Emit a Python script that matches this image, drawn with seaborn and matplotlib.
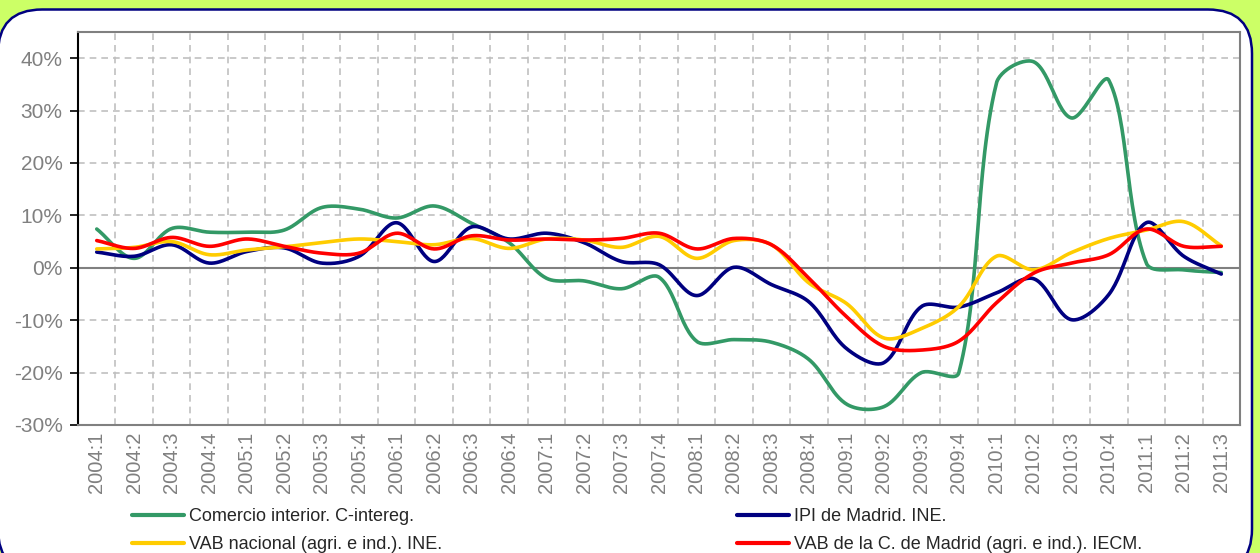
import numpy as np
import pandas as pd
import matplotlib
matplotlib.use("Agg")
import matplotlib.pyplot as plt
from matplotlib.patches import FancyBboxPatch
from matplotlib.lines import Line2D
import seaborn as sns

# --------------------------
# Data (% interanual)
# --------------------------
quarters = [f"{y}:{q}" for y in range(2004, 2012) for q in range(1, 5)][:31]

comercio = [7.4, 1.8, 7.5, 6.8, 6.8, 7.2, 11.5, 11.2, 9.5, 11.8, 8.5, 4.8,
            -2.0, -2.5, -4.0, -1.8, -14.0, -13.7, -14.2, -17.5, -26.0, -26.5,
            -20.0, -20.0, 35.2, 39.3, 28.6, 35.8, 0.9, -0.4, -0.9]
ipi_madrid = [3.0, 2.2, 4.4, 0.9, 3.1, 3.8, 0.9, 2.2, 8.6, 1.2, 7.8, 5.5,
              6.6, 4.8, 1.2, 0.6, -5.3, 0.1, -3.2, -6.5, -15.4, -18.1,
              -7.4, -7.5, -4.8, -2.1, -9.9, -5.1, 8.6, 2.2, -1.2]
vab_nacional = [3.6, 3.9, 5.0, 2.5, 3.4, 4.0, 4.8, 5.5, 5.0, 4.4, 5.6, 3.7,
                5.5, 5.3, 3.9, 6.0, 1.8, 5.2, 4.4, -2.9, -6.8, -13.4,
                -11.6, -7.4, 2.2, -0.4, 2.9, 5.6, 7.2, 8.8, 4.2]
vab_madrid = [5.2, 3.7, 5.8, 4.1, 5.5, 4.1, 2.8, 2.8, 6.6, 3.6, 6.1, 5.3,
              5.5, 5.3, 5.6, 6.6, 3.6, 5.6, 4.4, -2.0, -9.3, -15.0,
              -15.7, -14.0, -6.7, -1.0, 0.9, 2.5, 7.4, 4.1, 4.1]

series_names = ["Comercio interior. C-intereg.", "IPI de Madrid. INE.",
                "VAB nacional (agri. e ind.). INE.",
                "VAB de la C. de Madrid (agri. e ind.). IECM."]
series_values = [comercio, ipi_madrid, vab_nacional, vab_madrid]
series_colors = ["#339966", "#000080", "#FFCC00", "#FF0000"]


def smooth(vals, n=30, sx=37.5, sy=5.25):
    """Excel-like smoothed line: Bezier through the points, handle lengths
    weighted by the on-screen length of the adjacent segments."""
    y = np.asarray(vals, dtype=float)
    x = np.arange(len(y), dtype=float)
    P = np.column_stack([x * sx, y * sy])
    m = len(P)
    cin, cout = np.zeros_like(P), np.zeros_like(P)
    for i in range(m):
        prev, nxt = P[max(i - 1, 0)], P[min(i + 1, m - 1)]
        T = nxt - prev
        d1 = np.hypot(*(P[i] - prev))
        d2 = np.hypot(*(nxt - P[i]))
        tot = d1 + d2 if d1 + d2 > 0 else 1.0
        cin[i] = P[i] - T * (d1 / tot) / 3
        cout[i] = P[i] + T * (d2 / tot) / 3
    t = np.linspace(0, 1, n)[:, None]
    pts = []
    for i in range(m - 1):
        seg = ((1 - t) ** 3 * P[i] + 3 * (1 - t) ** 2 * t * cout[i]
               + 3 * (1 - t) * t ** 2 * cin[i + 1] + t ** 3 * P[i + 1])
        pts.append(seg if i == 0 else seg[1:])
    pts = np.vstack(pts)
    return pts[:, 0] / sx, pts[:, 1] / sy


# --------------------------
# Figure
# --------------------------
sns.set_theme(style="white")
plt.rcParams["font.family"] = ["Liberation Sans", "DejaVu Sans"]

W, H = 1260, 553
fig = plt.figure(figsize=(W / 100, H / 100), dpi=100)
fig.patch.set_facecolor("#CCFF66")
frame = FancyBboxPatch((-2 / W, -20 / H), 1254 / W, (H - 9.5 + 20) / H,
                       boxstyle="round,pad=0,rounding_size=0.035",
                       mutation_aspect=W / H,
                       transform=fig.transFigure, facecolor="white",
                       edgecolor="#000080", linewidth=1.8, zorder=-10)
fig.patches.append(frame)

ax = fig.add_axes([78 / W, 1 - 425 / H, (1240 - 78) / W, (425 - 32) / H])
ax.set_zorder(1)
ax.set_facecolor("white")

for name, vals, col in zip(series_names, series_values, series_colors):
    xs, ys = smooth(vals)
    sns.lineplot(x=xs, y=ys, color=col, linewidth=2.6, sort=False,
                 estimator=None, ax=ax, legend=False)

ax.axhline(0, color="#808080", linewidth=1.5, zorder=1)

ax.set_xlim(-0.5, len(quarters) - 0.5)
ax.set_ylim(-30, 45)
ax.set_yticks(range(-30, 41, 10))
ax.set_yticklabels([f"{v}%" for v in range(-30, 41, 10)])
ax.set_xticks(range(len(quarters)))
ax.set_xticklabels(quarters, rotation=90)

ax.grid(False)
for v in range(-30, 41, 10):
    ax.axhline(v, color="#C0C0C0", linewidth=1.2, linestyle=(0, (4, 3)), zorder=0.5)
for xv in np.arange(len(quarters) - 1) + 0.5:
    ax.axvline(xv, color="#C0C0C0", linewidth=1.2, linestyle=(0, (4, 3)), zorder=0.5)

ax.tick_params(axis="y", which="major", length=6, width=1.2, color="#000000",
               labelsize=15, labelcolor="#808080", pad=5, left=True)
ax.tick_params(axis="x", which="both", length=0, labelsize=14.5,
               labelcolor="#808080", pad=5)

for side in ("top", "right", "bottom"):
    ax.spines[side].set_color("#808080")
    ax.spines[side].set_linewidth(1.5)
ax.spines["left"].set_color("#000000")
ax.spines["left"].set_linewidth(1.5)

# legend: column-major order so rows read Comercio | IPI, VAB nac. | VAB Madrid
order = [0, 2, 1, 3]
handles = [Line2D([], [], color=series_colors[i], linewidth=3) for i in order]
labels = [series_names[i] for i in order]
fig.legend(handles, labels, ncol=2, loc="upper left",
           bbox_to_anchor=(132 / W, 1 - 508 / H), frameon=False,
           fontsize=13, handlelength=2.9, handletextpad=0.28,
           columnspacing=16.3, labelspacing=0.62, borderpad=0, borderaxespad=0)

fig.savefig("out.png", dpi=100, facecolor=fig.get_facecolor())
plt.close(fig)
